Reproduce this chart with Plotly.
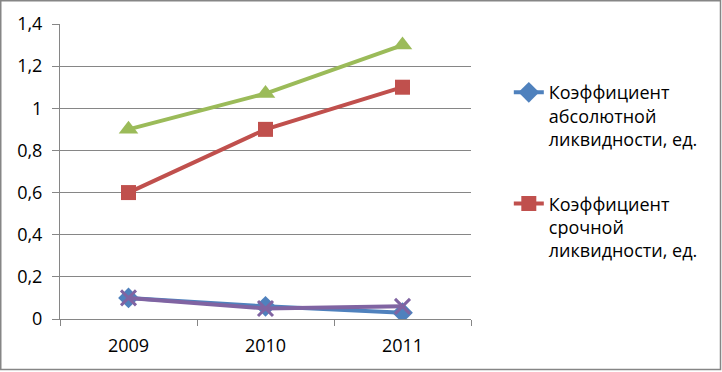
import plotly.graph_objects as go

years = ["2009", "2010", "2011"]
abs_liq = [0.10, 0.06, 0.03]
quick_liq = [0.60, 0.90, 1.10]
current_liq = [0.90, 1.07, 1.30]
fourth = [0.10, 0.05, 0.06]
names = ["Коэффициент<br>абсолютной<br>ликвидности, ед.",
         "Коэффициент<br>срочной<br>ликвидности, ед.",
         "Коэффициент текущей ликвидности, ед.",
         "Коэффициент"]
y_ticks = [0, 0.2, 0.4, 0.6, 0.8, 1.0, 1.2, 1.4]

W, H = 722, 372
L, R, T, B = 60, 251, 24, 53

fig = go.Figure()
fig.add_trace(go.Scatter(x=years, y=current_liq, name=names[2], mode="lines+markers",
                         line=dict(color="#9BBB59", width=4),
                         marker=dict(symbol="triangle-up", size=17, color="#9BBB59"),
                         showlegend=False))
fig.add_trace(go.Scatter(x=years, y=abs_liq, name=names[0], mode="lines+markers",
                         line=dict(color="#4F81BD", width=4),
                         marker=dict(symbol="diamond", size=16, color="#4F81BD"),
                         legendgroup="a", legendrank=1))
fig.add_trace(go.Scatter(x=years, y=quick_liq, name=names[1], mode="lines+markers",
                         line=dict(color="#C0504D", width=4),
                         marker=dict(symbol="square", size=15, color="#C0504D"),
                         legendgroup="b", legendrank=2))
fig.add_trace(go.Scatter(x=years, y=fourth, name=names[3], mode="lines+markers",
                         line=dict(color="#8064A2", width=4),
                         marker=dict(symbol="x-thin", size=15, color="#8064A2",
                                     line=dict(width=3, color="#8064A2")),
                         showlegend=False))

pw = W - L - R
ph = H - T - B
fig.add_shape(type="rect", xref="paper", yref="paper",
              x0=(0.75 - L) / pw, x1=(W - 1.5 - L) / pw,
              y0=-(H - T - ph - 2.5) / ph, y1=(T - 0.75) / ph + 1,
              line=dict(color="#868686", width=1.5), layer="below")

fig.update_layout(
    width=W, height=H,
    margin=dict(l=L, r=R, t=T, b=B),
    paper_bgcolor="white", plot_bgcolor="white",
    separators=", ",
    font=dict(family="Open Sans, Lato, sans-serif", size=18, color="#000000"),
    xaxis=dict(type="category", range=[-0.5, 2.5], showline=True, linecolor="#868686",
               linewidth=1, ticks="outside", tickson="boundaries", ticklen=6,
               tickcolor="#868686", showgrid=False, tickfont=dict(size=18),
               ticklabelstandoff=10),
    yaxis=dict(range=[0, 1.4], tickvals=y_ticks, showline=True, linecolor="#868686",
               linewidth=1, ticks="outside", ticklen=7, tickcolor="#868686",
               showgrid=True, gridcolor="#868686", gridwidth=1, zeroline=False,
               tickfont=dict(size=18), ticklabelstandoff=6),
    legend=dict(x=1.092, y=0.83, xanchor="left", yanchor="top", valign="top",
                tracegroupgap=38, font=dict(size=18), itemwidth=30,
                traceorder="grouped"),
)

fig.write_html("out.html", config={"displayModeBar": False},
               post_script="document.body.style.margin='0';")
